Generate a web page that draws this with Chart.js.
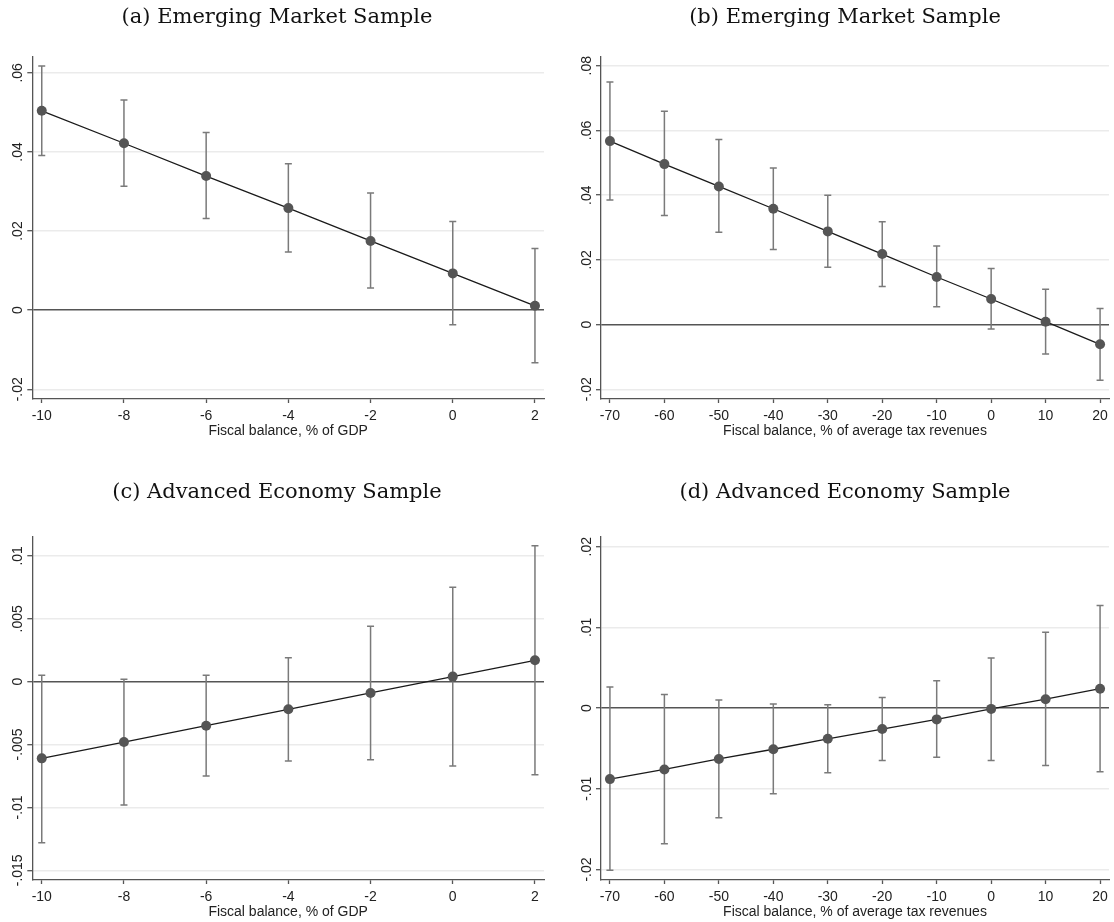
<!DOCTYPE html>
<html>
<head>
<meta charset="utf-8">
<title>Fiscal balance</title>
<script src="https://cdn.jsdelivr.net/npm/chart.js@4.4.1/dist/chart.umd.min.js"></script>
<style>
  html, body { margin: 0; padding: 0; background: #fff; }
  #wrap { position: relative; width: 1114px; height: 922px; overflow: hidden; }
  canvas { position: absolute; }
</style>
</head>
<body>
<div id="wrap">
  <canvas id="chartA" width="557" height="450" style="left:0;top:0"></canvas>
  <canvas id="chartB" width="557" height="450" style="left:557px;top:0"></canvas>
  <canvas id="chartC" width="557" height="452" style="left:0;top:470px"></canvas>
  <canvas id="chartD" width="557" height="452" style="left:557px;top:470px"></canvas>
</div>
<script>
// x values (fiscal balance)
const xGdp = [-10, -8, -6, -4, -2, 0, 2];
const xTax = [-70, -60, -50, -40, -30, -20, -10, 0, 10, 20];

// (a) emerging markets, % of GDP
const emGdpCoef = [0.0504, 0.0422, 0.0339, 0.0258, 0.0175, 0.0093, 0.0011];
const emGdpHi   = [0.0617, 0.0531, 0.0449, 0.0370, 0.0296, 0.0224, 0.0156];
const emGdpLo   = [0.0391, 0.0313, 0.0232, 0.0147, 0.0056, -0.0037, -0.0133];

// (b) emerging markets, % of average tax revenues
const emTaxCoef = [0.0567, 0.0496, 0.0427, 0.0358, 0.0288, 0.0218, 0.0147, 0.0079, 0.0009, -0.0061];
const emTaxHi   = [0.0750, 0.0659, 0.0572, 0.0484, 0.0400, 0.0318, 0.0243, 0.0173, 0.0109, 0.0050];
const emTaxLo   = [0.0385, 0.0337, 0.0285, 0.0232, 0.0177, 0.0118, 0.0055, -0.0014, -0.0091, -0.0172];

// (c) advanced economies, % of GDP
const aeGdpCoef = [-0.0061, -0.0048, -0.0035, -0.0022, -0.0009, 0.0004, 0.0017];
const aeGdpHi   = [0.0005, 0.0002, 0.0005, 0.0019, 0.0044, 0.0075, 0.0108];
const aeGdpLo   = [-0.0128, -0.0098, -0.0075, -0.0063, -0.0062, -0.0067, -0.0074];

// (d) advanced economies, % of average tax revenues
const aeTaxCoef = [-0.0088, -0.0076, -0.0063, -0.0051, -0.0038, -0.0026, -0.0014, -0.0001, 0.0011, 0.0024];
const aeTaxHi   = [0.0026, 0.0017, 0.0010, 0.0005, 0.0004, 0.0013, 0.0034, 0.0062, 0.0094, 0.0127];
const aeTaxLo   = [-0.0201, -0.0168, -0.0136, -0.0106, -0.0080, -0.0065, -0.0061, -0.0065, -0.0071, -0.0079];

// tick values
const yTicksA = [-0.02, 0, 0.02, 0.04, 0.06];
const yTicksB = [-0.02, 0, 0.02, 0.04, 0.06, 0.08];
const yTicksC = [-0.015, -0.01, -0.005, 0, 0.005, 0.01];
const yTicksD = [-0.02, -0.01, 0, 0.01, 0.02];

const tickFont = { family: '"Liberation Sans", Arial, sans-serif', size: 14 };

// Stata style labels: .02, -.005, 0
function fmtTick(v) {
  if (v === 0) return '0';
  return (v < 0 ? '-' : '') + String(Math.abs(v)).replace(/^0/, '');
}

// confidence intervals, drawn under the line and markers
const errorBars = {
  id: 'errorBars',
  beforeDatasetsDraw(chart, args, opts) {
    const { ctx } = chart;
    const x = chart.scales.x, y = chart.scales.y;
    ctx.save();
    ctx.strokeStyle = opts.color;
    ctx.lineWidth = opts.width;
    opts.xs.forEach((v, i) => {
      const px = x.getPixelForValue(v);
      const top = y.getPixelForValue(opts.hi[i]);
      const bot = y.getPixelForValue(opts.lo[i]);
      ctx.beginPath();
      ctx.moveTo(px, top); ctx.lineTo(px, bot);
      ctx.moveTo(px - opts.cap, top); ctx.lineTo(px + opts.cap, top);
      ctx.moveTo(px - opts.cap, bot); ctx.lineTo(px + opts.cap, bot);
      ctx.stroke();
    });
    ctx.restore();
  }
};

// vertical y tick labels (reading upward)
const rotatedYLabels = {
  id: 'rotatedYLabels',
  afterDraw(chart) {
    const y = chart.scales.y;
    const ctx = chart.ctx;
    ctx.save();
    ctx.fillStyle = '#222';
    ctx.font = '14px "Liberation Sans", Arial, sans-serif';
    ctx.textAlign = 'center';
    ctx.textBaseline = 'alphabetic';
    y.ticks.forEach(t => {
      ctx.save();
      ctx.translate(chart.chartArea.left - 10, y.getPixelForValue(t.value));
      ctx.rotate(-Math.PI / 2);
      ctx.fillText(fmtTick(t.value), 0, 0);
      ctx.restore();
    });
    ctx.restore();
  }
};

function makePanel(id, o) {
  return new Chart(document.getElementById(id), {
    type: 'line',
    data: {
      datasets: [{
        data: o.xs.map((v, i) => ({ x: v, y: o.coef[i] })),
        borderColor: '#1a1a1a',
        borderWidth: 1.3,
        pointRadius: 5,
        pointHoverRadius: 5,
        pointBackgroundColor: '#555',
        pointBorderWidth: 0,
        tension: 0
      }]
    },
    options: {
      responsive: false,
      animation: false,
      events: [],
      layout: { padding: o.pad },
      plugins: {
        legend: { display: false },
        tooltip: { enabled: false },
        title: {
          display: true,
          text: o.title,
          color: '#111',
          font: { family: '"DejaVu Serif", serif', size: 21, weight: 'normal' },
          padding: o.titlePad
        },
        errorBars: { xs: o.xs, lo: o.lo, hi: o.hi, color: '#7a7a7a', width: 1.5, cap: 3.5 }
      },
      scales: {
        x: {
          type: 'linear',
          min: o.xMin,
          max: o.xMax,
          afterBuildTicks: s => { s.ticks = o.xTicks.map(v => ({ value: v })); },
          grid: { drawOnChartArea: false, tickLength: 4, tickColor: '#555', tickWidth: 1.3 },
          border: { color: '#555', width: 1.3 },
          ticks: { color: '#222', font: tickFont, padding: 5, maxRotation: 0, callback: v => String(v) },
          title: { display: true, text: o.xLabel, color: '#222', font: tickFont, padding: { top: -7.2, bottom: 0 } }
        },
        y: {
          type: 'linear',
          min: o.yMin,
          max: o.yMax,
          afterBuildTicks: s => { s.ticks = o.yTicks.map(v => ({ value: v })); },
          afterFit: s => { s.width = o.yAxisW; },
          grid: {
            color: c => (c.tick && c.tick.value === 0) ? '#555' : '#ebebeb',
            lineWidth: 1.4,
            tickLength: 5,
            tickColor: '#555',
            tickWidth: 1.3
          },
          border: { color: '#555', width: 1.3 },
          ticks: { display: false }
        }
      }
    },
    plugins: [errorBars, rotatedYLabels]
  });
}

const gdpLabel = 'Fiscal balance, % of GDP';
const taxLabel = 'Fiscal balance, % of average tax revenues';

makePanel('chartA', {
  title: '(a) Emerging Market Sample', xLabel: gdpLabel,
  xs: xGdp, coef: emGdpCoef, lo: emGdpLo, hi: emGdpHi,
  xTicks: xGdp, yTicks: yTicksA, xMin: -10.23, xMax: 2.22, yMin: -0.02245, yMax: 0.064,
  yAxisW: 22.3, pad: { left: 10, right: 13, top: 0, bottom: 10.6 }, titlePad: { top: 5.4, bottom: 26.4 }
});
makePanel('chartB', {
  title: '(b) Emerging Market Sample', xLabel: taxLabel,
  xs: xTax, coef: emTaxCoef, lo: emTaxLo, hi: emTaxHi,
  xTicks: xTax, yTicks: yTicksB, xMin: -71.64, xMax: 21.64, yMin: -0.0230, yMax: 0.0827,
  yAxisW: 23, pad: { left: 21, right: 2, top: 0, bottom: 10.6 }, titlePad: { top: 5.4, bottom: 26.4 }
});
makePanel('chartC', {
  title: '(c) Advanced Economy Sample', xLabel: gdpLabel,
  xs: xGdp, coef: aeGdpCoef, lo: aeGdpLo, hi: aeGdpHi,
  xTicks: xGdp, yTicks: yTicksC, xMin: -10.23, xMax: 2.22, yMin: -0.01577, yMax: 0.0115,
  yAxisW: 22.3, pad: { left: 10, right: 13, top: 0, bottom: 1.6 }, titlePad: { top: 10.4, bottom: 31.4 }
});
makePanel('chartD', {
  title: '(d) Advanced Economy Sample', xLabel: taxLabel,
  xs: xTax, coef: aeTaxCoef, lo: aeTaxLo, hi: aeTaxHi,
  xTicks: xTax, yTicks: yTicksD, xMin: -71.64, xMax: 21.64, yMin: -0.0213, yMax: 0.0212,
  yAxisW: 23, pad: { left: 21, right: 2, top: 0, bottom: 1.6 }, titlePad: { top: 10.4, bottom: 31.4 }
});
</script>
</body>
</html>
